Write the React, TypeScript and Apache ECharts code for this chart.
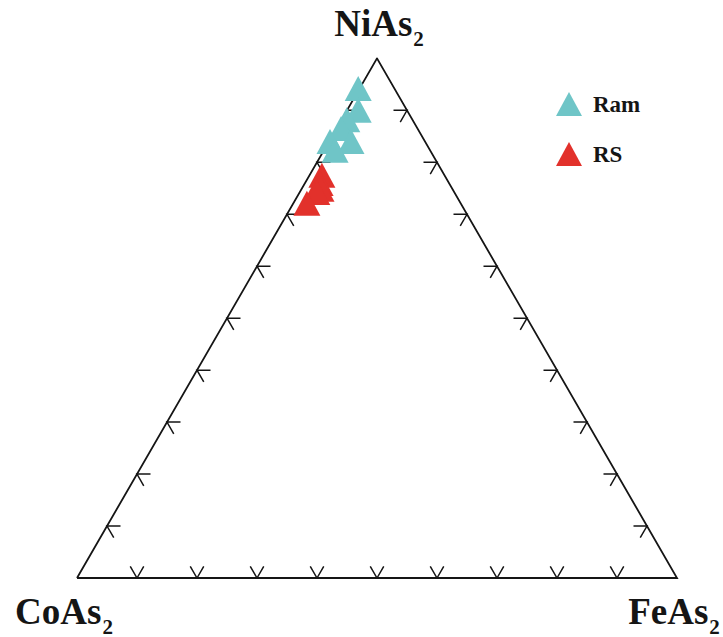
import React, { useEffect, useRef } from "react";
import * as echarts from "echarts";

// Ternary compositions in mol% (NiAs2, CoAs2, FeAs2)
const ramNi = [94.2, 90.0, 88.2, 86.5, 84.0, 84.0, 82.3];
const ramCo = [4.7, 6.8, 9.6, 11.4, 11.0, 14.5, 14.5];
const ramFe = [1.1, 3.2, 2.2, 2.1, 5.0, 1.5, 3.2];

const rsNi = [77.5, 75.9, 74.8, 74.2, 72.1];
const rsCo = [19.1, 20.2, 20.6, 21.6, 24.3];
const rsFe = [3.4, 3.9, 4.6, 4.2, 3.6];

// Ternary grid ticks, percent along each side
const tickSteps = [10, 20, 30, 40, 50, 60, 70, 80, 90];

const seriesNames = ["Ram", "RS"];
const vertexLabels = ["NiAs", "CoAs", "FeAs"];

const H = Math.sqrt(3) / 2;
const SERIF = "'Liberation Serif', 'Times New Roman', serif";

// Ni at the top, Co bottom-left, Fe bottom-right
function toXY(ni: number, co: number, fe: number): [number, number] {
  const s = ni + co + fe;
  const n = ni / s;
  const f = fe / s;
  return [f + n / 2, n * H];
}

function chevron(p: [number, number], a1: number, a2: number, len: number) {
  const r = Math.PI / 180;
  return {
    coords: [
      [p[0] + len * Math.cos(a1 * r), p[1] + len * Math.sin(a1 * r)],
      p,
      [p[0] + len * Math.cos(a2 * r), p[1] + len * Math.sin(a2 * r)],
    ],
  };
}

function buildTicks() {
  const len = 0.0225;
  const out: any[] = [];
  tickSteps.forEach((t) => {
    const f = t / 100;
    // bottom edge (Co -> Fe)
    out.push(chevron([f, 0], 60, 120, len));
    // left edge (Co -> Ni)
    out.push(chevron([0.5 * f, H * f], 0, -60, len));
    // right edge (Fe -> Ni)
    out.push(chevron([1 - 0.5 * f, H * f], 180, 240, len));
  });
  return out;
}

// Vertex label with a subscript 2; (x, y) is the top of the text line
function label(text: string, x: number, y: number) {
  return {
    type: "text",
    x,
    y,
    style: {
      text: `{m|${text}}{s|2}`,
      align: "center",
      verticalAlign: "top",
      rich: {
        m: {
          fontFamily: SERIF,
          fontWeight: "bold",
          fontSize: 37,
          lineHeight: 44,
          fill: "#151515",
          verticalAlign: "top",
        },
        s: {
          fontFamily: SERIF,
          fontWeight: "bold",
          fontSize: 21,
          lineHeight: 44,
          fill: "#151515",
          verticalAlign: "bottom",
          padding: [0, 0, 0, 1],
        },
      },
    },
  };
}

export default function App() {
  const ref = useRef<HTMLDivElement>(null);

  useEffect(() => {
    if (!ref.current) return;
    const chart = echarts.init(ref.current, null, { renderer: "svg" });

    const ramData = ramNi.map((n, i) => toXY(n, ramCo[i], ramFe[i]));
    const rsData = rsNi.map((n, i) => toXY(n, rsCo[i], rsFe[i]));

    const markerStyle = {
      symbol: "triangle",
      symbolSize: [27, 25],
      symbolOffset: [-8, 0],
    };

    chart.setOption({
      animation: false,
      backgroundColor: "#ffffff",
      grid: { left: 77, top: 58.4, width: 600, height: 519.6, containLabel: false },
      xAxis: { type: "value", min: 0, max: 1, show: false, splitLine: { show: false } },
      yAxis: { type: "value", min: 0, max: H, show: false, splitLine: { show: false } },
      legend: {
        data: seriesNames,
        orient: "vertical",
        left: 551,
        top: 87,
        itemWidth: 26,
        itemHeight: 24,
        itemGap: 26,
        textStyle: {
          fontFamily: SERIF,
          fontWeight: "bold",
          fontSize: 23,
          color: "#151515",
          padding: [0, 0, 0, 6],
        },
      },
      graphic: [
        label(vertexLabels[0], 379, 5),
        label(vertexLabels[1], 64, 593),
        label(vertexLabels[2], 674, 593),
      ],
      series: [
        {
          type: "lines",
          coordinateSystem: "cartesian2d",
          polyline: true,
          silent: true,
          data: [{ coords: [[0, 0], [1, 0], [0.5, H], [0, 0]] }],
          lineStyle: { color: "#151515", width: 1.8, opacity: 1 },
          z: 1,
        },
        {
          type: "lines",
          coordinateSystem: "cartesian2d",
          polyline: true,
          silent: true,
          data: buildTicks(),
          lineStyle: { color: "#151515", width: 1.5, opacity: 1 },
          z: 1,
        },
        {
          name: seriesNames[1],
          type: "scatter",
          data: rsData,
          itemStyle: { color: "#E2312B", opacity: 1 },
          z: 3,
          ...markerStyle,
        },
        {
          name: seriesNames[0],
          type: "scatter",
          data: ramData,
          itemStyle: { color: "#6FC5C7", opacity: 1 },
          z: 4,
          ...markerStyle,
        },
      ],
    });

    return () => chart.dispose();
  }, []);

  return (
    <div
      ref={ref}
      style={{ position: "absolute", left: 0, top: 0, width: 723, height: 637, background: "#fff" }}
    />
  );
}
